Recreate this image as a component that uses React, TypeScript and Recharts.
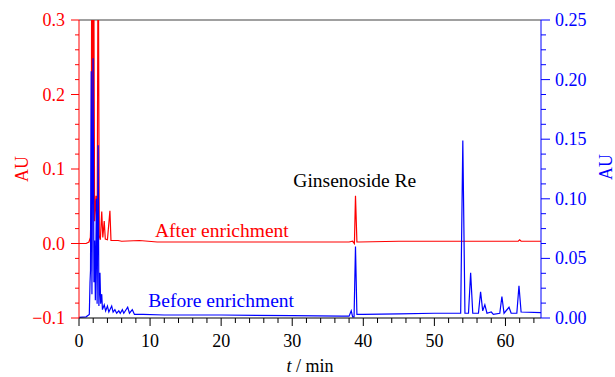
import { LineChart, Line, XAxis, YAxis, ReferenceLine, ReferenceDot } from 'recharts';

// After enrichment (left axis, AU)
const afterT = [0, 1.0, 1.4, 1.6, 1.72, 1.8, 1.92, 2.05, 2.2, 2.4, 2.55, 2.7, 2.85, 3.0, 3.2, 3.35, 3.55, 3.7, 4.0, 4.35, 4.5, 5.5, 6.0, 8.5, 11, 20, 30, 38.0, 38.5, 38.75, 38.9, 39.1, 39.4, 45, 50, 55, 61.8, 62.0, 62.2, 65];
const afterAU = [0.0, 0.0, 0.002, 0.008, 0.05, 0.45, 0.1, 0.45, 0.03, 0.064, 0.01, 0.45, 0.01, 0.005, 0.043, 0.008, 0.03, 0.006, 0.005, 0.044, 0.004, 0.004, 0.003, 0.004, 0.002, 0.002, 0.002, 0.002, 0.003, 0.0, 0.064, 0.002, 0.002, 0.003, 0.003, 0.003, 0.003, 0.005, 0.003, 0.003];

// Before enrichment (right axis, AU)
const beforeT = [0, 1.0, 1.45, 1.55, 1.62, 1.72, 1.82, 1.98, 2.1, 2.2, 2.3, 2.45, 2.55, 2.7, 2.8, 2.95, 3.05, 3.2, 3.3, 3.55, 3.75, 4.0, 4.2, 4.6, 4.8, 5.05, 5.3, 5.6, 5.8, 6.1, 6.3, 6.85, 7.1, 7.5, 7.8, 9, 12, 20, 30, 37, 38.0, 38.3, 38.5, 38.7, 38.9, 39.1, 40, 45, 50, 53.7, 54.0, 54.3, 54.8, 55.1, 55.4, 56.2, 56.5, 56.8, 57.1, 57.4, 58.0, 58.3, 59.2, 59.5, 59.8, 60.5, 60.8, 61.6, 61.9, 62.2, 65];
const beforeAU = [0.0006, 0.001, 0.003, 0.03, 0.04, 0.207, 0.02, 0.218, 0.03, 0.065, 0.015, 0.1, 0.012, 0.145, 0.01, 0.038, 0.012, 0.02, 0.007, 0.011, 0.006, 0.01, 0.005, 0.01, 0.005, 0.007, 0.004, 0.006, 0.004, 0.007, 0.004, 0.009, 0.004, 0.007, 0.003, 0.003, 0.0025, 0.0025, 0.002, 0.0015, 0.0015, 0.006, 0.001, 0.001, 0.06, 0.003, 0.003, 0.0035, 0.004, 0.004, 0.149, 0.004, 0.004, 0.038, 0.004, 0.004, 0.022, 0.006, 0.011, 0.004, 0.005, 0.003, 0.004, 0.018, 0.004, 0.009, 0.004, 0.004, 0.027, 0.005, 0.0045];

const timeTicks = [0, 2, 4, 6, 8, 10, 12, 14, 16, 18, 20, 22, 24, 26, 28, 30, 32, 34, 36, 38, 40, 42, 44, 46, 48, 50, 52, 54, 56, 58, 60, 62, 64];
const leftTicks = [-0.1, -0.08, -0.06, -0.04, -0.02, 0, 0.02, 0.04, 0.06, 0.08, 0.1, 0.12, 0.14, 0.16, 0.18, 0.2, 0.22, 0.24, 0.26, 0.28, 0.3];
const rightTicks = [0, 0.0125, 0.025, 0.0375, 0.05, 0.0625, 0.075, 0.0875, 0.1, 0.1125, 0.125, 0.1375, 0.15, 0.1625, 0.175, 0.1875, 0.2, 0.2125, 0.225, 0.2375, 0.25];

const afterData = afterT.map((t, i) => ({ t, au: afterAU[i] }));
const beforeData = beforeT.map((t, i) => ({ t, au: beforeAU[i] }));

const RED = '#ff0000';
const BLUE = '#0000ff';
const FONT = '"Liberation Serif", "Times New Roman", serif';

const isMult = (v: number, step: number) => Math.abs(v / step - Math.round(v / step)) < 1e-6;

function TimeTick({ x, y, payload }: any) {
  const major = isMult(payload.value, 10);
  return (
    <g>
      <line x1={x} x2={x} y1={y} y2={y + (major ? 8 : 5)} stroke="#000" />
      {major && (
        <text x={x} y={y + 29} textAnchor="middle" fontSize={18} fontFamily={FONT} fill="#000">
          {payload.value}
        </text>
      )}
    </g>
  );
}

function LeftTick({ x, y, payload }: any) {
  const major = isMult(payload.value, 0.1);
  const v = payload.value;
  const label = v < 0 ? '\u2212' + Math.abs(v).toFixed(1) : v.toFixed(1);
  return (
    <g>
      <line x1={x} x2={x - (major ? 8 : 4)} y1={y} y2={y} stroke={RED} />
      {major && (
        <text x={x - 14} y={y + 6} textAnchor="end" fontSize={18} fontFamily={FONT} fill={RED}>
          {label}
        </text>
      )}
    </g>
  );
}

function RightTick({ x, y, payload }: any) {
  const major = isMult(payload.value, 0.05);
  return (
    <g>
      <line x1={x} x2={x + (major ? 9 : 5)} y1={y} y2={y} stroke={BLUE} />
      {major && (
        <text x={x + 14} y={y + 6} textAnchor="start" fontSize={18} fontFamily={FONT} fill={BLUE}>
          {payload.value.toFixed(2)}
        </text>
      )}
    </g>
  );
}

const noteLabel = (text: string, color: string) => ({
  content: ({ viewBox }: any) => {
    const cx = viewBox.x + viewBox.width / 2;
    const cy = viewBox.y + viewBox.height / 2;
    return (
      <text x={cx} y={cy + 6.5} textAnchor="middle" fontSize={19.5} fontFamily={FONT} fill={color}>
        {text}
      </text>
    );
  },
});

export default function App() {
  return (
    <div style={{ position: 'absolute', left: 0, top: 0 }}>
      <LineChart width={615} height={377} margin={{ top: 20, right: 0, left: 0, bottom: 0 }} style={{ fontFamily: FONT }}>
        <XAxis
          dataKey="t"
          type="number"
          domain={[0, 65]}
          ticks={timeTicks}
          height={59}
          tickSize={0}
          tickMargin={0}
          tickLine={false}
          axisLine={{ stroke: '#000' }}
          tick={<TimeTick />}
          interval={0}
          allowDuplicatedCategory={false}
          label={{
            content: ({ viewBox }: any) => (
              <text x={viewBox.x + viewBox.width / 2} y={viewBox.y + 54} textAnchor="middle" fontSize={18} fontFamily={FONT} fill="#000">
                <tspan fontStyle="italic">t</tspan> / min
              </text>
            ),
          }}
        />
        <YAxis
          yAxisId="left"
          orientation="left"
          domain={[-0.1, 0.3]}
          allowDataOverflow
          ticks={leftTicks}
          width={79}
          tickSize={0}
          tickMargin={0}
          tickLine={false}
          interval={0}
          axisLine={{ stroke: RED }}
          tick={<LeftTick />}
          label={{
            content: ({ viewBox }: any) => {
              const cx = viewBox.x + 22;
              const cy = viewBox.y + viewBox.height / 2;
              return (
                <text x={cx} y={cy} transform={`rotate(-90 ${cx} ${cy})`} textAnchor="middle" dominantBaseline="central" fontSize={18} fontFamily={FONT} fill={RED}>
                  AU
                </text>
              );
            },
          }}
        />
        <YAxis
          yAxisId="right"
          orientation="right"
          domain={[0, 0.25]}
          allowDataOverflow
          ticks={rightTicks}
          width={74}
          tickSize={0}
          tickMargin={0}
          tickLine={false}
          interval={0}
          axisLine={{ stroke: BLUE }}
          tick={<RightTick />}
          label={{
            content: ({ viewBox }: any) => {
              const cx = viewBox.x + 65;
              const cy = viewBox.y + viewBox.height / 2 - 2;
              return (
                <text x={cx} y={cy} transform={`rotate(-90 ${cx} ${cy})`} textAnchor="middle" dominantBaseline="central" fontSize={18} fontFamily={FONT} fill={BLUE}>
                  AU
                </text>
              );
            },
          }}
        />
        <ReferenceLine yAxisId="left" y={0.3} stroke="#808080" strokeWidth={1.5} />
        <Line
          yAxisId="left"
          data={afterData}
          dataKey="au"
          type="linear"
          stroke={RED}
          strokeWidth={1.2}
          dot={false}
          isAnimationActive={false}
        />
        <Line
          yAxisId="right"
          data={beforeData}
          dataKey="au"
          type="linear"
          stroke={BLUE}
          strokeWidth={1.2}
          dot={false}
          isAnimationActive={false}
        />
        <ReferenceDot yAxisId="left" x={20.1} y={0.018} r={0} fill="none" stroke="none" label={noteLabel('After enrichment', RED)} />
        <ReferenceDot yAxisId="left" x={20.0} y={-0.077} r={0} fill="none" stroke="none" label={noteLabel('Before enrichment', BLUE)} />
        <ReferenceDot yAxisId="left" x={38.8} y={0.084} r={0} fill="none" stroke="none" label={noteLabel('Ginsenoside Re', '#000')} />
      </LineChart>
    </div>
  );
}
